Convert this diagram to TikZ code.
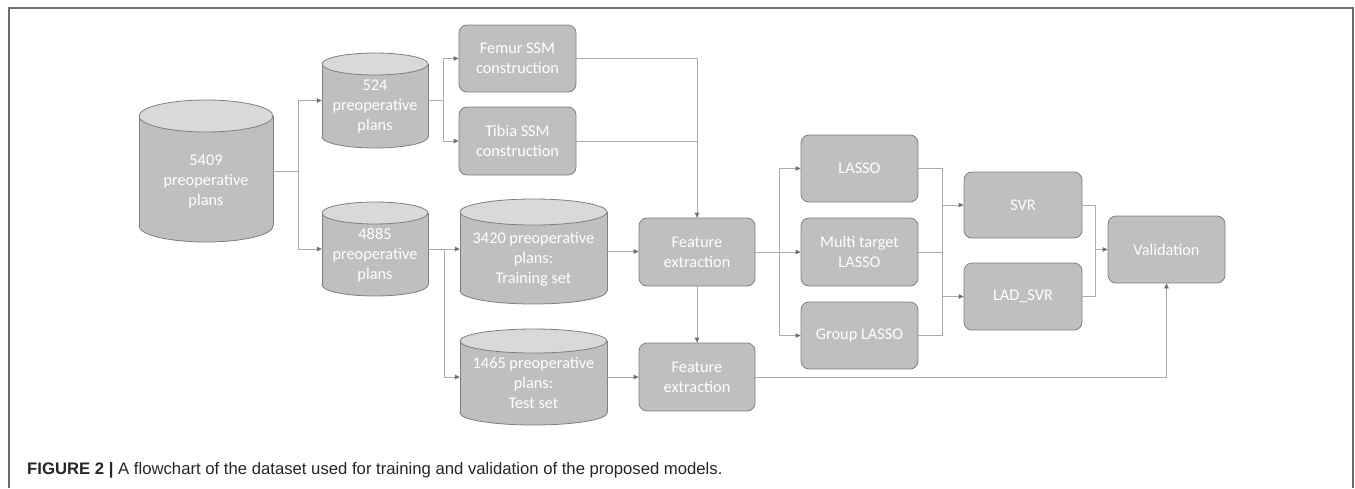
\documentclass[tikz,border=0pt]{standalone}
\usepackage{fontspec}
\setmainfont{Carlito}
\newfontfamily\capfont{Liberation Sans}
\usetikzlibrary{arrows.meta,calc}
\definecolor{boxfill}{HTML}{BFBFBF}
\definecolor{boxline}{HTML}{7F7F7F}
\definecolor{capfill}{HTML}{D9D9D9}
\definecolor{connc}{HTML}{ABABAB}
\definecolor{tipc}{HTML}{707070}
\definecolor{framec}{HTML}{6E6E6E}
\newcommand\dbcyl[8]{% #1 name, #2 xl, #3 xr, #4 yt, #5 yb, #6 ry, #7 text y, #8 text
  \pgfmathsetmacro\cylcx{(#2+#3)/2}%
  \pgfmathsetmacro\cylrx{(#3-#2)/2}%
  \pgfmathsetmacro\cylw{#3-#2}%
  \pgfmathsetmacro\cylh{#5-#4}%
  \pgfmathsetmacro\cylcy{(#4+#5)/2}%
  \draw[draw=boxline,fill=boxfill,line width=0.8pt] (\cylcx,#5) ellipse[x radius=\cylrx pt, y radius=#6 pt];
  \fill[boxfill] (#2,#4) rectangle (#3,#5);
  \draw[boxline,line width=0.8pt] (#2,#4) -- (#2,#5) (#3,#4) -- (#3,#5);
  \draw[draw=boxline,fill=capfill,line width=0.8pt] (\cylcx,#4) ellipse[x radius=\cylrx pt, y radius=#6 pt];
  \node[inner sep=0pt, minimum width=\cylw pt, minimum height=\cylh pt] (#1) at (\cylcx,\cylcy) {};
  \node[cyltext] (#1-t) at (\cylcx,#7) {#8};
}
\begin{document}
\begin{tikzpicture}[x=1pt,y=-1pt,
  proc/.style={draw=boxline, fill=boxfill, rounded corners=8pt, line width=0.8pt, inner sep=0pt,
    text=white, align=center, font=\fontsize{16.3}{20}\selectfont},
  cyltext/.style={inner sep=0pt, text=white, align=center, font=\fontsize{16.3}{20}\selectfont},
  conn/.style={draw=connc, line width=0.8pt},
  arr/.style={conn, -{Triangle[length=5pt,width=4.5pt,color=tipc]}}]
\useasboundingbox (0,0) rectangle (1355,488);
\draw[framec, line width=1.5pt] (9,488) -- (9,8) -- (1353,8) -- (1353,488);

% cylinders
\dbcyl{c5409}{139}{273}{116}{226}{16}{182}{5409\\preoperative\\plans}
\dbcyl{c524}{322}{428}{64}{137}{11}{107}{524\\preoperative\\plans}
\dbcyl{c4885}{322}{428}{213}{285}{11}{255}{4885\\preoperative\\plans}
\dbcyl{train}{460}{607}{212}{291}{13}{259}{3420 preoperative\\plans:\\Training set}
\dbcyl{test}{460}{607}{341}{413}{12}{383}{1465 preoperative\\plans:\\Test set}

% process boxes
\node[proc, minimum width=117pt, minimum height=67pt] (femur) at (517.5,58.5) {Femur SSM\\construction};
\node[proc, minimum width=117pt, minimum height=68pt] (tibia) at (517.5,141) {Tibia SSM\\construction};
\node[proc, minimum width=116pt, minimum height=68pt] (fe1) at (697,252) {Feature\\extraction};
\node[proc, minimum width=116pt, minimum height=68pt] (fe2) at (697,377) {Feature\\extraction};
\node[proc, minimum width=117pt, minimum height=67pt] (lasso) at (859.5,168.5) {LASSO};
\node[proc, minimum width=117pt, minimum height=68pt] (multi) at (859.5,252) {Multi target\\LASSO};
\node[proc, minimum width=117pt, minimum height=67pt] (group) at (859.5,335.5) {Group LASSO};
\node[proc, minimum width=118pt, minimum height=66pt] (svr) at (1023,205) {SVR};
\node[proc, minimum width=118pt, minimum height=67pt] (ladsvr) at (1023,296.5) {LAD\_SVR};
\node[proc, minimum width=117pt, minimum height=67pt] (val) at (1166.5,249.5) {Validation};

% connectors
\draw[conn] (c5409.east) -- ++(25,0) coordinate (j1);
\draw[arr] (j1) |- (c524.west);
\draw[arr] (j1) |- (c4885.west);
\draw[conn] (c524.east) -- ++(15,0) coordinate (j2);
\draw[arr] (j2) |- (femur.west);
\draw[arr] (j2) |- (tibia.west);
\draw[conn] (tibia.east) -| (fe1.north);
\draw[arr] (femur.east) -| (fe1.north);
\draw[conn] (c4885.east) -- ++(16,0) coordinate (j3);
\draw[arr] (j3) -- (j3 -| train.west);
\draw[arr] (j3) |- (test.west);
\draw[arr] (train.east) -- (train.east -| fe1.west);
\draw[arr] (test.east) -- (fe2.west);
\draw[arr] (fe1.south) -- (fe2.north);
\draw[arr] (fe2.east) -| (val.south);
\draw[conn] (fe1.east) -- ++(24,0) coordinate (j4);
\draw[arr] (j4) |- (lasso.west);
\draw[arr] (j4) |- (multi.west);
\draw[arr] (j4) |- (group.west);
\draw[conn] (lasso.east) -- ++(24,0) coordinate (j5) |- (group.east);
\draw[conn] (multi.east) -- (multi.east -| j5);
\draw[arr] (j5 |- svr.west) -- (svr.west);
\draw[arr] (j5 |- ladsvr.west) -- (ladsvr.west);
\draw[conn] (svr.east) -- ++(13,0) coordinate (j6) |- (ladsvr.east);
\draw[arr] (j6 |- val.west) -- (val.west);

% caption
\node[anchor=base west, inner sep=0pt, text=black!85, font=\capfont\fontsize{16.7}{20}\selectfont] (cap) at (27,474)
  {\textbf{FIGURE 2 |} A flowchart of the dataset used for training and validation of the proposed models.};
\end{tikzpicture}
\end{document}
